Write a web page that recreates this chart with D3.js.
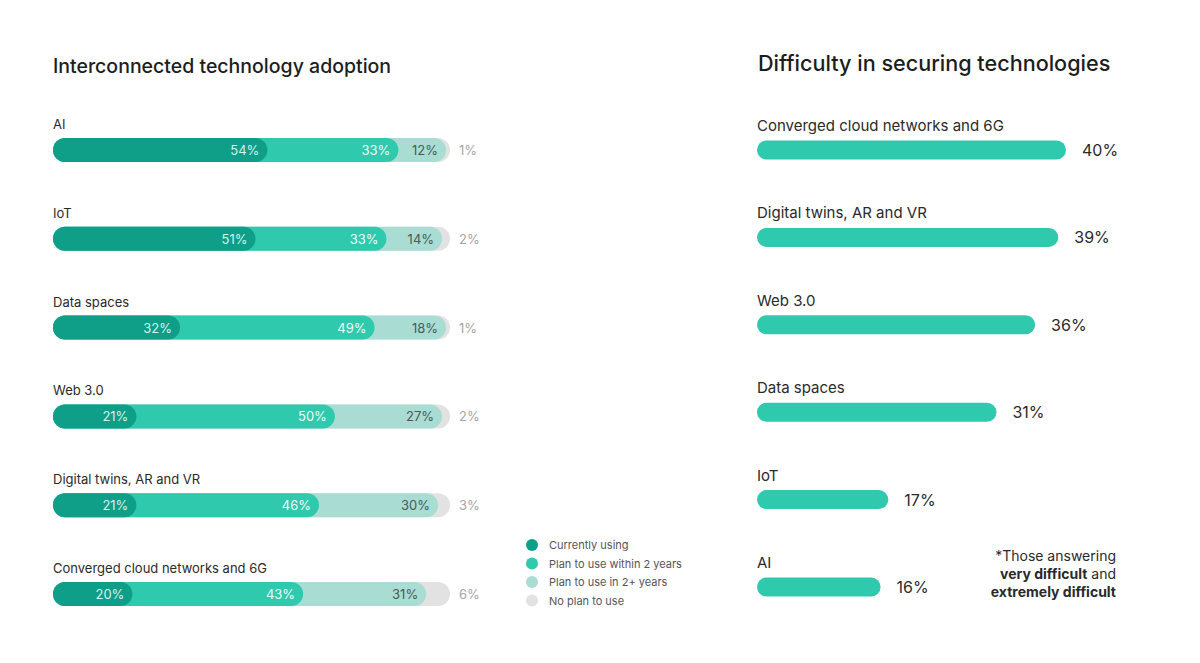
<!DOCTYPE html>
<html><head><meta charset="utf-8">
<script src="https://cdn.jsdelivr.net/npm/d3@7"></script>
<style>body{margin:0;background:#fff}text{font-family:Inter,"Noto Sans",sans-serif}</style>
</head><body>
<script>
var adoptCats = ["AI", "IoT", "Data spaces", "Web 3.0", "Digital twins, AR and VR", "Converged cloud networks and 6G"];
var currentlyUsing = [54, 51, 32, 21, 21, 20];
var planWithin2 = [33, 33, 49, 50, 46, 43];
var plan2Plus = [12, 14, 18, 27, 30, 31];
var noPlan = [1, 2, 1, 2, 3, 6];
var seriesNames = ["Currently using", "Plan to use within 2 years", "Plan to use in 2+ years", "No plan to use"];

var diffCats = ["Converged cloud networks and 6G", "Digital twins, AR and VR", "Web 3.0", "Data spaces", "IoT", "AI"];
var diffVals = [40, 39, 36, 31, 17, 16];

var colors = ["#0f9e87", "#2fc9ad", "#a9ddd3", "#e2e2e2"];
var textCols = ["#d4f3ec", "#eefcf8", "#4a5a57", "#a5a5a5"];

var svg = d3.select("body").append("svg").attr("width", 1200).attr("height", 663);

// left chart
svg.append("text").attr("x", 53).attr("y", 73).attr("font-size", 19.5).attr("font-weight", 500)
  .attr("fill", "#1d1d1d").text("Interconnected technology adoption");

var x = d3.scaleLinear().domain([0, 100]).range([53, 450]);
var y = d3.scaleBand().domain(adoptCats).range([105.6, 638.4]);
var bh = 24;

adoptCats.forEach(function(c, i){
  var vals = [currentlyUsing[i], planWithin2[i], plan2Plus[i], noPlan[i]];
  var cum = d3.cumsum(vals);
  var cy = y(c) + y.bandwidth() / 2;
  svg.append("text").attr("x", 53).attr("y", cy - 21).attr("font-size", 13).attr("fill", "#2a2a2a").text(c);
  for (var k = 3; k >= 0; k--) {
    svg.append("rect").attr("x", x(0)).attr("y", cy - bh / 2)
      .attr("width", x(Math.min(cum[k], 100)) - x(0)).attr("height", bh)
      .attr("rx", bh / 2).attr("fill", colors[k]);
  }
  for (var k = 0; k < 3; k++) {
    svg.append("text").attr("x", x(cum[k]) - 8).attr("y", cy + 5).attr("text-anchor", "end")
      .attr("font-size", 13).attr("fill", textCols[k]).text(vals[k] + "%");
  }
  svg.append("text").attr("x", 459).attr("y", cy + 5).attr("font-size", 13)
    .attr("fill", textCols[3]).text(vals[3] + "%");
});

// legend
seriesNames.forEach(function(s, i){
  var ly = 545 + i * 18.5;
  svg.append("circle").attr("cx", 532).attr("cy", ly).attr("r", 6).attr("fill", colors[i]);
  svg.append("text").attr("x", 549).attr("y", ly + 4).attr("font-size", 11).attr("fill", "#555").text(s);
});

// right chart
svg.append("text").attr("x", 758).attr("y", 71).attr("font-size", 21.6).attr("font-weight", 500)
  .attr("fill", "#1d1d1d").text("Difficulty in securing technologies");

var x2 = d3.scaleLinear().domain([0, 40]).range([757, 1066]);
var y2 = d3.scaleBand().domain(diffCats).range([106.3, 630.7]);
var bh2 = 19;
diffCats.forEach(function(c, i){
  var cy = y2(c) + y2.bandwidth() / 2;
  svg.append("text").attr("x", 757).attr("y", cy - 19).attr("font-size", 15).attr("fill", "#2a2a2a").text(c);
  svg.append("rect").attr("x", x2(0)).attr("y", cy - bh2 / 2).attr("width", x2(diffVals[i]) - x2(0))
    .attr("height", bh2).attr("rx", bh2 / 2).attr("fill", colors[1]);
  svg.append("text").attr("x", x2(diffVals[i]) + 16).attr("y", cy + 6).attr("font-size", 16)
    .attr("fill", "#2a2a2a").text(diffVals[i] + "%");
});

var note = svg.append("g").attr("font-size", 14).attr("fill", "#2a2a2a").attr("text-anchor", "end");
note.append("text").attr("x", 1116).attr("y", 561).text("*Those answering");
var l2 = note.append("text").attr("x", 1116).attr("y", 579);
l2.append("tspan").attr("font-weight", 700).text("very difficult");
l2.append("tspan").text(" and");
note.append("text").attr("x", 1116).attr("y", 597).attr("font-weight", 700).text("extremely difficult");
</script>
</body></html>
